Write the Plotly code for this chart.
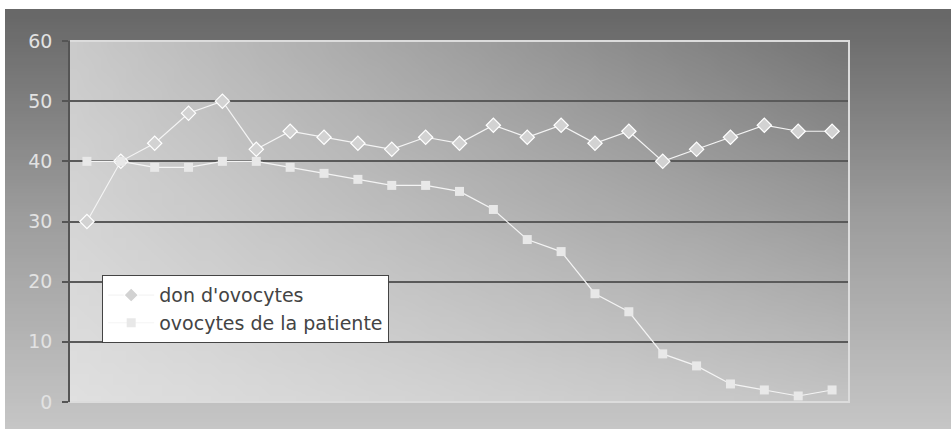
import base64, struct, zlib
import plotly.graph_objects as go

# ---- data ----
categories = list(range(1, 24))
don_ovocytes = [30, 40, 43, 48, 50, 42, 45, 44, 43, 42, 44, 43, 46, 44, 46, 43, 45, 40, 42, 44, 46, 45, 45]
ovocytes_patiente = [40, 40, 39, 39, 40, 40, 39, 38, 37, 36, 36, 35, 32, 27, 25, 18, 15, 8, 6, 3, 2, 1, 2]
y_ticks = [0, 10, 20, 30, 40, 50, 60]
series_names = ["don d'ovocytes", "ovocytes de la patiente"]


# ---- gradient images (styling only) ----
def png_uri(rows):
    h = len(rows)
    w = len(rows[0])
    raw = b"".join(b"\x00" + bytes(int(max(0, min(255, v))) for v in r) for r in rows)

    def chunk(t, d):
        c = struct.pack(">I", len(d)) + t + d
        return c + struct.pack(">I", zlib.crc32(t + d) & 0xFFFFFFFF)

    png = b"\x89PNG\r\n\x1a\n"
    png += chunk(b"IHDR", struct.pack(">IIBBBBB", w, h, 8, 0, 0, 0, 0))
    png += chunk(b"IDAT", zlib.compress(raw, 9))
    png += chunk(b"IEND", b"")
    return "data:image/png;base64," + base64.b64encode(png).decode()


def outer_rows(n=64):
    rows = []
    for i in range(n):
        v = i / (n - 1)
        if v < 0.5:
            c = 104 + (158 - 104) * (v / 0.5)
        else:
            c = 158 + (198 - 158) * ((v - 0.5) / 0.5)
        rows.append([c, c])
    return rows


def plot_rows(w=64, h=32):
    TL, TR, BL, BR = 203, 118, 224, 196
    rows = []
    for j in range(h):
        v = j / (h - 1)
        row = []
        for i in range(w):
            u = i / (w - 1)
            c = TL * (1 - u) * (1 - v) + TR * u * (1 - v) + BL * (1 - u) * v + BR * u * v
            row.append(c)
        rows.append(row)
    return rows


W, H = 951, 429
L, R, T, B = 70, 849, 41, 402
pw, ph = R - L, B - T
FONT = "DejaVu Sans, Verdana, sans-serif"

fig = go.Figure()
fig.add_trace(go.Scatter(
    x=categories, y=don_ovocytes, name=series_names[0], mode="lines+markers",
    line=dict(color="#f4f4f4", width=1.2),
    marker=dict(symbol="diamond", size=11, color="#d2d2d2", line=dict(color="#ffffff", width=1.2)),
))
fig.add_trace(go.Scatter(
    x=categories, y=ovocytes_patiente, name=series_names[1], mode="lines+markers",
    line=dict(color="#f4f4f4", width=1.2),
    marker=dict(symbol="square", size=9, color="#e8e8e8", line=dict(width=0)),
))

fig.update_layout(
    width=W, height=H,
    margin=dict(l=L, r=W - R, t=T, b=H - B, pad=0),
    paper_bgcolor="#ffffff",
    plot_bgcolor="rgba(0,0,0,0)",
    font=dict(family=FONT, size=19, color="#444444"),
    showlegend=True,
    legend=dict(
        x=(102 - L) / pw, y=(B - 275) / ph, xanchor="left", yanchor="top",
        bgcolor="#ffffff", bordercolor="#444444", borderwidth=1.2,
        font=dict(family=FONT, size=19, color="#444444"), tracegroupgap=0,
        itemwidth=46,
    ),
    images=[
        dict(source=png_uri(outer_rows()), xref="paper", yref="paper",
             x=(5 - L) / pw, y=(B - 9) / ph, sizex=(W - 5) / pw, sizey=(H - 9) / ph,
             xanchor="left", yanchor="top", sizing="stretch", layer="below"),
        dict(source=png_uri(plot_rows()), xref="paper", yref="paper",
             x=0, y=1, sizex=1, sizey=1,
             xanchor="left", yanchor="top", sizing="stretch", layer="below"),
    ],
    shapes=[
        dict(type="path", xref="paper", yref="paper",
             path="M 0 1 L 1 1 L 1 0 L 0 0",
             line=dict(color="#dcdcdc", width=2), layer="above"),
    ],
)

fig.update_xaxes(
    range=[0.5, 23.5], showgrid=False, zeroline=False, showticklabels=False,
    ticks="", showline=False, fixedrange=True,
)
fig.update_yaxes(
    range=[0, 60], tickvals=y_ticks, ticktext=[str(t) for t in y_ticks],
    showgrid=True, gridcolor="#5a5a5a", gridwidth=1.5, zeroline=False,
    showline=True, linecolor="#555555", linewidth=1.5,
    ticks="outside", ticklen=6, tickcolor="#555555", tickwidth=1.5,
    ticklabelstandoff=6,
    tickfont=dict(family=FONT, color="#e2e2e2", size=19), fixedrange=True,
)

fig.write_html(
    "out.html",
    config={"displayModeBar": False},
    post_script="document.body.style.margin='0';document.body.style.overflow='hidden';",
)
